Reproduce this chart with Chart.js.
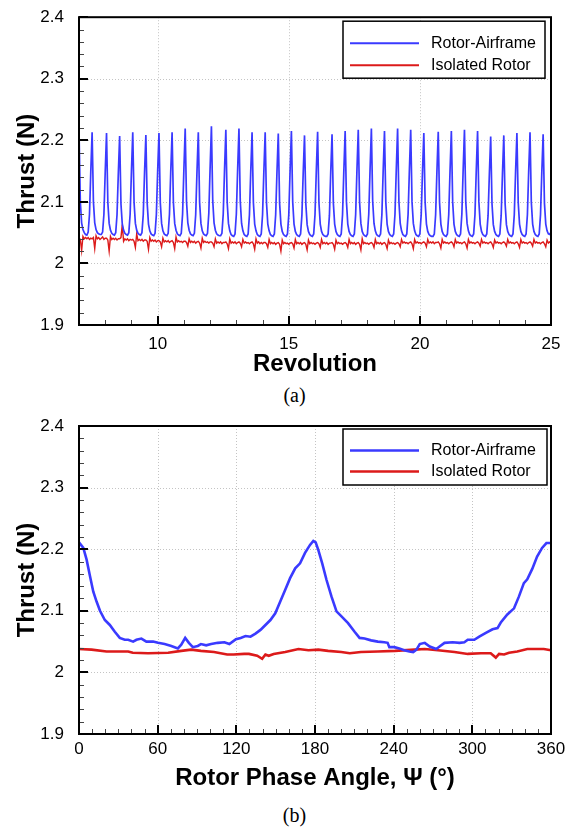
<!DOCTYPE html>
<html>
<head>
<meta charset="utf-8">
<title>Rotor thrust</title>
<script src="https://cdn.jsdelivr.net/npm/chart.js@4.4.0/dist/chart.umd.min.js"></script>
<style>
  body { margin: 0; background: #fff; width: 577px; height: 827px; position: relative; overflow: hidden; }
  canvas { position: absolute; left: 0; }
  #revChart { top: 0; }
  #phaseChart { top: 400px; }
  .caption { position: absolute; left: 6px; width: 577px; text-align: center; line-height: 24px;
             font-family: 'Liberation Serif', 'Times New Roman', serif; font-size: 20px; color: #000; }
</style>
</head>
<body>
<canvas id="revChart" width="577" height="380"></canvas>
<div class="caption" style="top:383px">(a)</div>
<canvas id="phaseChart" width="577" height="400"></canvas>
<div class="caption" style="top:803px">(b)</div>

<script>
// ====================== DATA ======================

// (a) thrust vs revolution, sampled every 0.05 rev from rev 7 to rev 25
const revStart = 7;
const revStep = 0.05;
const revTicks = [10, 15, 20, 25];

// one row per blade passage (row starts at the thrust peak)
const airframeRevRows = [
  [2.217, 2.100, 2.066, 2.055, 2.050, 2.047, 2.046, 2.051, 2.080, 2.150],
  [2.213, 2.100, 2.066, 2.055, 2.050, 2.048, 2.047, 2.047, 2.051, 2.080, 2.149],
  [2.212, 2.099, 2.065, 2.054, 2.049, 2.047, 2.046, 2.050, 2.079, 2.147],
  [2.207, 2.097, 2.064, 2.054, 2.049, 2.047, 2.046, 2.050, 2.080, 2.150],
  [2.213, 2.099, 2.065, 2.054, 2.049, 2.047, 2.046, 2.050, 2.079, 2.148],
  [2.2085, 2.098, 2.064, 2.053, 2.048, 2.046, 2.045, 2.049, 2.079, 2.150],
  [2.212, 2.099, 2.065, 2.053, 2.048, 2.046, 2.045, 2.049, 2.080, 2.151],
  [2.213, 2.099, 2.065, 2.054, 2.048, 2.046, 2.045, 2.049, 2.080, 2.153],
  [2.219, 2.101, 2.066, 2.054, 2.048, 2.046, 2.045, 2.049, 2.079, 2.150],
  [2.213, 2.099, 2.065, 2.053, 2.048, 2.046, 2.045, 2.049, 2.081, 2.155],
  [2.223, 2.102, 2.066, 2.054, 2.048, 2.046, 2.045, 2.045, 2.049, 2.080, 2.152],
  [2.217, 2.100, 2.065, 2.053, 2.047, 2.045, 2.044, 2.048, 2.080, 2.153],
  [2.219, 2.101, 2.065, 2.053, 2.047, 2.045, 2.044, 2.048, 2.079, 2.150],
  [2.213, 2.099, 2.064, 2.053, 2.047, 2.045, 2.044, 2.048, 2.079, 2.150],
  [2.213, 2.099, 2.064, 2.053, 2.047, 2.045, 2.044, 2.048, 2.079, 2.149],
  [2.211, 2.098, 2.064, 2.052, 2.047, 2.045, 2.044, 2.048, 2.079, 2.151],
  [2.215, 2.100, 2.064, 2.052, 2.047, 2.045, 2.044, 2.048, 2.078, 2.147],
  [2.208, 2.097, 2.063, 2.052, 2.047, 2.045, 2.044, 2.048, 2.079, 2.151],
  [2.214, 2.099, 2.064, 2.052, 2.047, 2.045, 2.044, 2.044, 2.048, 2.078, 2.149],
  [2.210, 2.098, 2.064, 2.052, 2.047, 2.045, 2.044, 2.048, 2.079, 2.151],
  [2.215, 2.100, 2.064, 2.052, 2.047, 2.045, 2.044, 2.048, 2.079, 2.152],
  [2.217, 2.100, 2.065, 2.052, 2.047, 2.045, 2.044, 2.048, 2.080, 2.153],
  [2.219, 2.101, 2.065, 2.053, 2.047, 2.045, 2.044, 2.048, 2.079, 2.151],
  [2.215, 2.100, 2.064, 2.052, 2.047, 2.045, 2.044, 2.048, 2.080, 2.153],
  [2.219, 2.101, 2.065, 2.053, 2.047, 2.045, 2.044, 2.048, 2.080, 2.152],
  [2.217, 2.100, 2.065, 2.053, 2.047, 2.045, 2.044, 2.048, 2.079, 2.150],
  [2.212, 2.099, 2.064, 2.052, 2.047, 2.045, 2.044, 2.044, 2.048, 2.079, 2.150],
  [2.214, 2.099, 2.064, 2.052, 2.047, 2.045, 2.044, 2.048, 2.079, 2.151],
  [2.215, 2.100, 2.064, 2.052, 2.047, 2.045, 2.044, 2.048, 2.080, 2.152],
  [2.217, 2.100, 2.065, 2.053, 2.047, 2.045, 2.044, 2.048, 2.079, 2.151],
  [2.215, 2.100, 2.064, 2.052, 2.047, 2.045, 2.044, 2.048, 2.078, 2.146],
  [2.206, 2.097, 2.063, 2.052, 2.047, 2.045, 2.044, 2.048, 2.078, 2.147],
  [2.208, 2.097, 2.063, 2.052, 2.047, 2.045, 2.044, 2.048, 2.079, 2.150],
  [2.212, 2.099, 2.064, 2.052, 2.047, 2.045, 2.044, 2.048, 2.079, 2.151],
  [2.213, 2.099, 2.064, 2.052, 2.047, 2.045, 2.044, 2.048, 2.079, 2.149],
  [2.210, 2.098, 2.064, 2.053, 2.048, 2.047, 2.051]
];

const isolatedRevRows = [
  [2.042, 2.039, 2.021, 2.044, 2.040, 2.042, 2.040, 2.042, 2.039, 2.041],
  [2.040, 2.042, 2.024, 2.045, 2.040, 2.042, 2.039, 2.041, 2.043, 2.039, 2.041],
  [2.041, 2.038, 2.020, 2.044, 2.039, 2.041, 2.039, 2.041, 2.038, 2.040],
  [2.040, 2.042, 2.063, 2.036, 2.040, 2.038, 2.040, 2.037, 2.039, 2.038],
  [2.039, 2.036, 2.026, 2.048, 2.037, 2.039, 2.037, 2.039, 2.036, 2.038],
  [2.038, 2.036, 2.023, 2.042, 2.036, 2.038, 2.036, 2.038, 2.035, 2.037],
  [2.037, 2.035, 2.027, 2.041, 2.035, 2.037, 2.035, 2.037, 2.034, 2.036],
  [2.037, 2.034, 2.024, 2.043, 2.035, 2.037, 2.035, 2.036, 2.034, 2.036],
  [2.036, 2.034, 2.028, 2.040, 2.034, 2.036, 2.034, 2.036, 2.033, 2.035],
  [2.036, 2.033, 2.025, 2.041, 2.034, 2.036, 2.034, 2.035, 2.033, 2.035],
  [2.035, 2.033, 2.027, 2.040, 2.033, 2.035, 2.033, 2.035, 2.032, 2.034, 2.034],
  [2.035, 2.032, 2.024, 2.040, 2.033, 2.035, 2.033, 2.035, 2.032, 2.034],
  [2.035, 2.033, 2.027, 2.039, 2.033, 2.035, 2.033, 2.034, 2.032, 2.034],
  [2.035, 2.032, 2.023, 2.040, 2.033, 2.035, 2.032, 2.034, 2.032, 2.034],
  [2.034, 2.032, 2.026, 2.039, 2.032, 2.034, 2.032, 2.034, 2.031, 2.033],
  [2.034, 2.031, 2.020, 2.038, 2.032, 2.034, 2.032, 2.033, 2.031, 2.033],
  [2.034, 2.032, 2.025, 2.039, 2.032, 2.034, 2.032, 2.034, 2.031, 2.033],
  [2.034, 2.031, 2.022, 2.038, 2.032, 2.034, 2.032, 2.033, 2.031, 2.033],
  [2.034, 2.032, 2.026, 2.039, 2.032, 2.034, 2.032, 2.034, 2.031, 2.033, 2.033],
  [2.034, 2.031, 2.023, 2.038, 2.032, 2.034, 2.032, 2.033, 2.031, 2.033],
  [2.034, 2.032, 2.026, 2.039, 2.032, 2.034, 2.032, 2.034, 2.031, 2.033],
  [2.034, 2.031, 2.022, 2.040, 2.032, 2.034, 2.032, 2.033, 2.031, 2.033],
  [2.034, 2.032, 2.026, 2.039, 2.032, 2.034, 2.032, 2.034, 2.031, 2.033],
  [2.034, 2.031, 2.024, 2.038, 2.032, 2.034, 2.032, 2.033, 2.031, 2.033],
  [2.034, 2.032, 2.027, 2.039, 2.033, 2.035, 2.033, 2.034, 2.032, 2.034],
  [2.035, 2.032, 2.024, 2.039, 2.033, 2.035, 2.033, 2.034, 2.032, 2.034],
  [2.035, 2.033, 2.027, 2.039, 2.033, 2.035, 2.033, 2.035, 2.032, 2.034, 2.034],
  [2.035, 2.032, 2.025, 2.039, 2.033, 2.035, 2.033, 2.034, 2.032, 2.034],
  [2.035, 2.033, 2.027, 2.039, 2.033, 2.035, 2.033, 2.034, 2.032, 2.034],
  [2.035, 2.032, 2.025, 2.039, 2.033, 2.035, 2.033, 2.034, 2.032, 2.034],
  [2.035, 2.033, 2.028, 2.039, 2.033, 2.035, 2.033, 2.034, 2.032, 2.034],
  [2.035, 2.032, 2.026, 2.038, 2.033, 2.035, 2.033, 2.034, 2.032, 2.034],
  [2.035, 2.033, 2.028, 2.039, 2.033, 2.035, 2.033, 2.034, 2.032, 2.034],
  [2.035, 2.032, 2.026, 2.039, 2.033, 2.035, 2.033, 2.034, 2.032, 2.034],
  [2.035, 2.033, 2.028, 2.039, 2.033, 2.035, 2.033, 2.034, 2.032, 2.034],
  [2.035, 2.032, 2.027, 2.038, 2.033, 2.035, 2.034]
];

// (b) thrust vs rotor phase angle (deg)
const phaseTicks = [0, 60, 120, 180, 240, 300, 360];

const airframePhaseDeg = [
  0, 3.3, 5.8, 8.4, 10.9, 13.4, 16, 19.7, 23.5, 27.3, 31.1, 34.9, 37.5, 41.3, 43.8, 47.6,
  51.4, 56.5, 60.3, 65.3, 70.4, 75.4, 78, 81, 83.8, 86.8, 90.6, 93, 97, 100.8, 105.8, 110.9,
  114.7, 119.7, 123.3, 127, 130.8, 134.6, 138.4, 142.2, 146, 149.7, 153.5, 157.3, 161, 164.9,
  168.6, 172.4, 176.2, 178.7, 180.5, 182.5, 185.5, 188.8, 192.6, 196.4, 200.2, 205.2, 210.2,
  214, 217.8, 222.8, 227.9, 232.9, 235.4, 236.7, 240.5, 244.3, 248, 252, 254.9, 257.4, 259.9,
  263.7, 267.5, 272.5, 275, 278.8, 285, 290.2, 293.9, 296.5, 301.5, 305.3, 310.3, 315.4,
  319.2, 321.7, 326.7, 331.8, 335.5, 339.3, 341.9, 345.7, 349.4, 353.2, 356.5, 360
];
const airframePhaseThrust = [
  2.211, 2.202, 2.183, 2.156, 2.131, 2.115, 2.100, 2.085, 2.077, 2.066, 2.056, 2.053, 2.053, 2.050, 2.053, 2.055,
  2.050, 2.050, 2.048, 2.046, 2.043, 2.039, 2.045, 2.056, 2.048, 2.041, 2.043, 2.046, 2.044, 2.046, 2.048, 2.049,
  2.046, 2.054, 2.056, 2.059, 2.058, 2.063, 2.069, 2.077, 2.085, 2.096, 2.115, 2.134, 2.153, 2.169,
  2.177, 2.194, 2.207, 2.2135, 2.211, 2.199, 2.177, 2.150, 2.123, 2.099, 2.091, 2.080, 2.066,
  2.056, 2.055, 2.052, 2.050, 2.049, 2.048, 2.041, 2.041, 2.039, 2.036, 2.034, 2.033, 2.037, 2.046,
  2.048, 2.042, 2.038, 2.042, 2.048, 2.049, 2.048, 2.049, 2.053, 2.053, 2.058, 2.064, 2.070,
  2.072, 2.081, 2.094, 2.104, 2.123, 2.145, 2.151, 2.168, 2.188, 2.202, 2.210, 2.210
];

const isolatedPhaseDeg = [
  0, 9.6, 21, 37.5, 41, 52.7, 68, 78, 85.6, 93, 103, 113, 118, 126, 129.6, 135.9, 139.7, 142.2,
  144.7, 148.5, 157.3, 167.4, 175, 182.5, 190, 200, 206.5, 215, 228, 241, 256, 263.7, 273.8,
  286.4, 296.5, 306.6, 314, 317.9, 320.4, 324.2, 328, 334.3, 341.9, 349.4, 354.5, 360
];
const isolatedPhaseThrust = [
  2.038, 2.037, 2.034, 2.034, 2.032, 2.031, 2.032, 2.035, 2.037, 2.035, 2.033, 2.029, 2.029, 2.030, 2.030, 2.027, 2.022, 2.029,
  2.027, 2.030, 2.033, 2.038, 2.036, 2.037, 2.035, 2.033, 2.031, 2.033, 2.034, 2.035, 2.037, 2.038, 2.036,
  2.033, 2.030, 2.031, 2.031, 2.024, 2.030, 2.029, 2.032, 2.034, 2.038, 2.038, 2.038, 2.036
];

const thrustTicks = [1.9, 2.0, 2.1, 2.2, 2.3, 2.4];

const seriesLabels = ['Rotor-Airframe', 'Isolated Rotor'];
const blue = '#3a3aff';
const red = '#dc1a1a';

// ====================== PLUGINS ======================

// dotted grid, inward ticks and the closed frame
const frameTicks = {
  id: 'frameTicks',
  beforeDatasetsDraw(chart, args, opts) {
    const { ctx, chartArea: a, scales: { x, y } } = chart;
    ctx.save();
    ctx.strokeStyle = '#c4c4c4';
    ctx.lineWidth = 1;
    ctx.setLineDash([1, 2]);
    opts.xGrid.forEach(v => {
      const px = Math.round(x.getPixelForValue(v)) + 0.5;
      ctx.beginPath(); ctx.moveTo(px, a.top); ctx.lineTo(px, a.bottom); ctx.stroke();
    });
    opts.yGrid.forEach(v => {
      const py = Math.round(y.getPixelForValue(v)) + 0.5;
      ctx.beginPath(); ctx.moveTo(a.left, py); ctx.lineTo(a.right, py); ctx.stroke();
    });
    ctx.restore();
  },
  afterDatasetsDraw(chart, args, opts) {
    const { ctx, chartArea: a, scales: { x, y } } = chart;
    ctx.save();
    // minor ticks
    ctx.strokeStyle = '#444';
    ctx.lineWidth = 1;
    for (let v = x.min + opts.xMinor; v < x.max - 1e-9; v += opts.xMinor) {
      const px = Math.round(x.getPixelForValue(v)) + 0.5;
      ctx.beginPath(); ctx.moveTo(px, a.bottom); ctx.lineTo(px, a.bottom - 5); ctx.stroke();
    }
    for (let v = y.min + opts.yMinor; v < y.max - 1e-9; v += opts.yMinor) {
      const py = Math.round(y.getPixelForValue(v)) + 0.5;
      ctx.beginPath(); ctx.moveTo(a.left, py); ctx.lineTo(a.left + 5, py); ctx.stroke();
    }
    // major ticks
    ctx.strokeStyle = '#000';
    ctx.lineWidth = 2;
    opts.xMajor.forEach(v => {
      const px = Math.round(x.getPixelForValue(v));
      ctx.beginPath(); ctx.moveTo(px, a.bottom); ctx.lineTo(px, a.bottom - 9); ctx.stroke();
    });
    opts.yMajor.forEach(v => {
      const py = Math.round(y.getPixelForValue(v));
      ctx.beginPath(); ctx.moveTo(a.left, py); ctx.lineTo(a.left + 9, py); ctx.stroke();
    });
    // frame
    ctx.lineWidth = 2;
    ctx.strokeRect(a.left, a.top, a.right - a.left, a.bottom - a.top);
    ctx.restore();
  }
};

// boxed legend in the upper right corner of the plot
const boxLegend = {
  id: 'boxLegend',
  afterDraw(chart, args, opts) {
    const { ctx, chartArea: a } = chart;
    const right = a.right - opts.inset;
    const left = right - opts.width;
    const top = a.top + opts.top;
    ctx.save();
    ctx.fillStyle = '#fff';
    ctx.fillRect(left, top, opts.width, opts.height);
    ctx.strokeStyle = '#000';
    ctx.lineWidth = 1.5;
    ctx.strokeRect(left, top, opts.width, opts.height);
    ctx.font = opts.font;
    ctx.textBaseline = 'middle';
    chart.data.datasets.forEach((ds, i) => {
      const yy = top + opts.firstRow + i * opts.rowGap;
      ctx.strokeStyle = ds.borderColor;
      ctx.lineWidth = opts.lineWidth;
      ctx.beginPath(); ctx.moveTo(left + 7, yy); ctx.lineTo(left + 76, yy); ctx.stroke();
      ctx.fillStyle = '#000';
      ctx.fillText(ds.label, left + 88, yy);
    });
    ctx.restore();
  }
};

// ====================== CHARTS ======================

Chart.defaults.font.family = "'Liberation Sans', Arial, Helvetica, sans-serif";
Chart.defaults.color = '#000';

function toPoints(xs, ys) {
  return ys.map((v, i) => ({ x: xs[i], y: v }));
}

function revPoints(rows) {
  return rows.flat().map((v, i) => ({ x: revStart + i * revStep, y: v }));
}

function buildOptions(cfg) {
  return {
    responsive: false,
    animation: false,
    events: [],
    layout: { padding: { top: cfg.padTop, right: 26, bottom: 0, left: 0 } },
    elements: { point: { radius: 0 }, line: { tension: 0 } },
    plugins: {
      legend: { display: false },
      tooltip: { enabled: false },
      frameTicks: {
        xGrid: cfg.xGrid, yGrid: [2.0, 2.1, 2.2, 2.3],
        xMajor: cfg.xTicks, yMajor: thrustTicks,
        xMinor: cfg.xMinor, yMinor: 0.02
      },
      boxLegend: cfg.legend
    },
    scales: {
      x: {
        type: 'linear',
        min: cfg.xMin,
        max: cfg.xMax,
        afterBuildTicks: s => { s.ticks = cfg.xTicks.map(v => ({ value: v })); },
        afterFit: s => { s.height = cfg.xAxisHeight; },
        grid: { display: false },
        border: { display: false },
        ticks: { padding: cfg.xTickPad, autoSkip: false, maxRotation: 0, font: { size: 17 } },
        title: {
          display: true, text: cfg.xTitle,
          font: { size: 24, weight: 'bold' },
          padding: { top: 0, bottom: cfg.xTitlePad }
        }
      },
      y: {
        min: 1.9,
        max: 2.4,
        afterBuildTicks: s => { s.ticks = thrustTicks.map(v => ({ value: v })); },
        afterFit: s => { s.width = 79; },
        grid: { display: false },
        border: { display: false },
        ticks: { padding: 7, font: { size: 17 }, callback: v => String(+v.toFixed(1)) },
        title: {
          display: true, text: 'Thrust (N)',
          font: { size: 24, weight: 'bold' },
          padding: { top: 13, bottom: 0 }
        }
      }
    }
  };
}

new Chart(document.getElementById('revChart'), {
  type: 'line',
  data: {
    datasets: [
      { label: seriesLabels[0], data: revPoints(airframeRevRows), borderColor: blue, borderWidth: 1.7 },
      { label: seriesLabels[1], data: revPoints(isolatedRevRows), borderColor: red, borderWidth: 1.4 }
    ]
  },
  options: buildOptions({
    padTop: 13, xMin: 7, xMax: 25, xTicks: revTicks, xGrid: [10, 15, 20], xMinor: 1,
    xAxisHeight: 55, xTickPad: 1, xTitle: 'Revolution', xTitlePad: 1,
    legend: { inset: 6, width: 202, top: 4, height: 57, firstRow: 22, rowGap: 22,
              lineWidth: 2, font: "16px 'Liberation Sans', Arial, sans-serif" }
  }),
  plugins: [frameTicks, boxLegend]
});

new Chart(document.getElementById('phaseChart'), {
  type: 'line',
  data: {
    datasets: [
      { label: seriesLabels[0], data: toPoints(airframePhaseDeg, airframePhaseThrust), borderColor: blue, borderWidth: 2.6 },
      { label: seriesLabels[1], data: toPoints(isolatedPhaseDeg, isolatedPhaseThrust), borderColor: red, borderWidth: 2.6 }
    ]
  },
  options: buildOptions({
    padTop: 26, xMin: 0, xMax: 360, xTicks: phaseTicks, xGrid: [60, 120, 180, 240, 300], xMinor: 10,
    xAxisHeight: 66, xTickPad: -3, xTitle: 'Rotor Phase Angle, \u03A8 (\u00B0)', xTitlePad: 7,
    legend: { inset: 4, width: 204, top: 3, height: 56, firstRow: 21.5, rowGap: 21,
              lineWidth: 2.6, font: "16px 'Liberation Sans', Arial, sans-serif" }
  }),
  plugins: [frameTicks, boxLegend]
});
</script>
</body>
</html>
